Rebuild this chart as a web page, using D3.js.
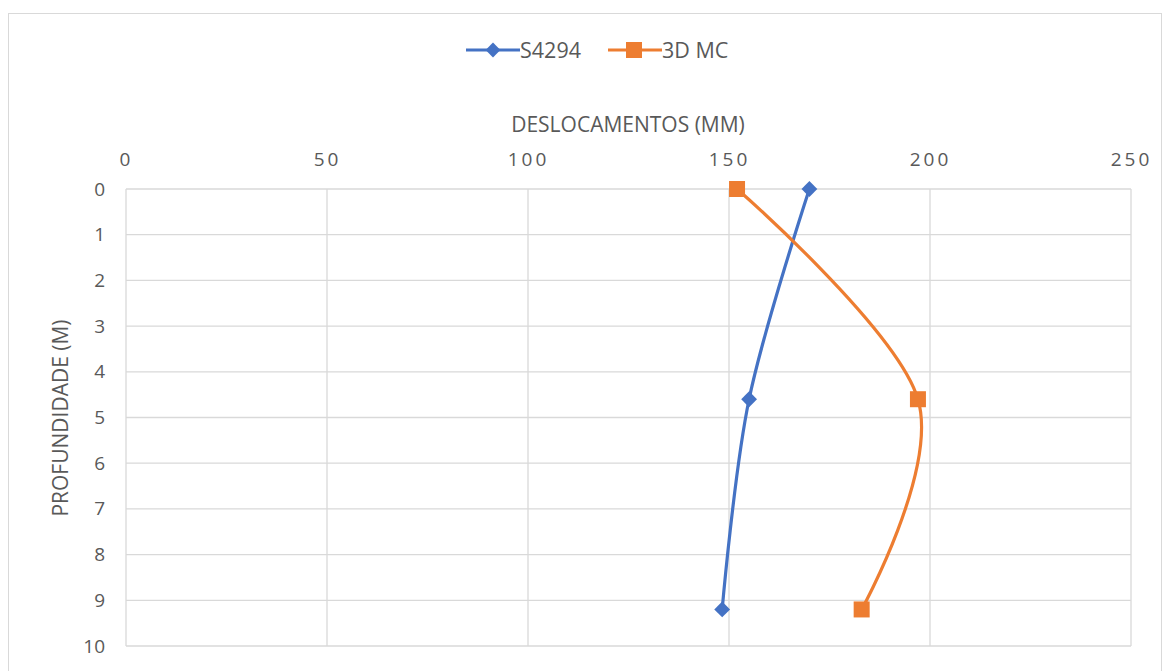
<!DOCTYPE html>
<html><head><meta charset="utf-8">
<script src="https://cdn.jsdelivr.net/npm/d3@7"></script>
<style>body{margin:0;background:#fff;}svg{display:block;font-family:"Open Sans","Liberation Sans",sans-serif;}</style>
</head><body><svg id="c" width="1165" height="671"></svg>
<script>
const xTicks = [0, 50, 100, 150, 200, 250];
const yTicks = [0,1,2,3,4,5,6,7,8,9,10];
const depths = [0, 4.6, 9.2];
const s4294 = [170, 155, 148.3];
const mc3d = [152, 197, 183];
const seriesNames = ["S4294", "3D MC"];
const colors = ["#4472C4", "#ED7D31"];

const svg = d3.select("#c");
svg.append("rect").attr("x",8.5).attr("y",13.5).attr("width",1153).attr("height",700)
  .attr("fill","#fff").attr("stroke","#d9d9d9");

const x = d3.scaleLinear().domain([0,250]).range([126,1131]);
const y = d3.scaleLinear().domain([0,10]).range([189,646]);

const g = svg.append("g");
g.selectAll(".vg").data(xTicks).join("line").attr("x1",d=>x(d)).attr("x2",d=>x(d))
 .attr("y1",y(0)).attr("y2",y(10)).attr("stroke","#d9d9d9").attr("stroke-width",1.3);
g.selectAll(".hg").data(yTicks).join("line").attr("y1",d=>y(d)).attr("y2",d=>y(d))
 .attr("x1",x(0)).attr("x2",x(250)).attr("stroke","#d9d9d9").attr("stroke-width",1.3);

const xa = svg.append("g").attr("transform",`translate(0,${y(0)})`)
  .call(d3.axisTop(x).tickValues(xTicks).tickSize(0).tickPadding(23));
xa.select(".domain").remove();
xa.selectAll("text").attr("font-size",19).attr("fill","#595959").attr("letter-spacing","3px")
  .attr("font-family","'Open Sans','Liberation Sans',sans-serif");

const ya = svg.append("g").attr("transform",`translate(${x(0)},0)`)
  .call(d3.axisLeft(y).tickValues(yTicks).tickSize(0).tickPadding(21));
ya.select(".domain").remove();
ya.selectAll("text").attr("font-size",19).attr("fill","#595959")
  .attr("font-family","'Open Sans','Liberation Sans',sans-serif");

svg.append("text").attr("x",628).attr("y",132).attr("text-anchor","middle")
  .attr("font-size",21).attr("fill","#595959").text("DESLOCAMENTOS (MM)");
svg.append("text").attr("transform",`translate(68,418) rotate(-90)`).attr("text-anchor","middle")
  .attr("font-size",21).attr("fill","#595959").text("PROFUNDIDADE (M)");

const line = d3.line().x(d=>x(d[0])).y(d=>y(d[1])).curve(d3.curveCardinal.tension(0));
const series = [s4294, mc3d];
series.forEach((vals,i)=>{
  const pts = vals.map((v,j)=>[v, depths[j]]);
  svg.append("path").attr("d",line(pts)).attr("fill","none").attr("stroke",colors[i]).attr("stroke-width",3.2);
  pts.forEach(p=>{
    if(i===0){
      svg.append("path").attr("d",d3.symbol(d3.symbolSquare,125)())
        .attr("transform",`translate(${x(p[0])},${y(p[1])}) rotate(45)`).attr("fill",colors[i]);
    } else {
      svg.append("rect").attr("x",x(p[0])-8).attr("y",y(p[1])-8).attr("width",16).attr("height",16).attr("fill",colors[i]);
    }
  });
});

const leg = [{x0:466,name:seriesNames[0]},{x0:608,name:seriesNames[1]}];
leg.forEach((l,i)=>{
  svg.append("line").attr("x1",l.x0).attr("x2",l.x0+54).attr("y1",50).attr("y2",50).attr("stroke",colors[i]).attr("stroke-width",3.2);
  if(i===0){
    svg.append("path").attr("d",d3.symbol(d3.symbolSquare,110)()).attr("transform",`translate(${l.x0+27},50) rotate(45)`).attr("fill",colors[i]);
  } else {
    svg.append("rect").attr("x",l.x0+18).attr("y",42).attr("width",16).attr("height",16).attr("fill",colors[i]);
  }
  svg.append("text").attr("x",l.x0+54).attr("y",58).attr("font-size",21.5).attr("fill","#595959").text(l.name);
});
</script></body></html>
